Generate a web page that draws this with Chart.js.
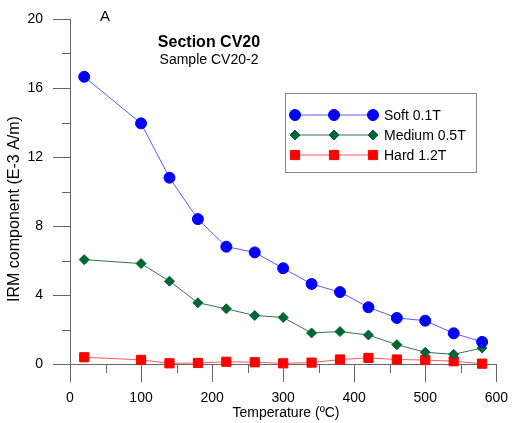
<!DOCTYPE html>
<html>
<head>
<meta charset="utf-8">
<script src="https://cdn.jsdelivr.net/npm/chart.js@4.4.1/dist/chart.umd.min.js"></script>
<style>
  html, body { margin: 0; padding: 0; background: #fff; }
  #wrap { width: 516px; height: 423px; }
</style>
</head>
<body>
<div id="wrap"><canvas id="irm" width="516" height="423"></canvas></div>
<script>
// temperature steps (oC)
var temps = [20, 100, 140, 180, 220, 260, 300, 340, 380, 420, 460, 500, 540, 580];
// IRM components (E-3 A/m)
var soft   = [16.65, 13.95, 10.8, 8.4, 6.8, 6.47, 5.55, 4.64, 4.17, 3.29, 2.67, 2.51, 1.78, 1.28];
var medium = [6.05, 5.82, 4.8, 3.55, 3.2, 2.81, 2.7, 1.8, 1.88, 1.68, 1.12, 0.68, 0.56, 0.93];
var hard   = [0.39, 0.24, 0.04, 0.06, 0.13, 0.1, 0.04, 0.08, 0.26, 0.35, 0.26, 0.23, 0.16, 0.02];
var seriesNames = ['Soft 0.1T', 'Medium 0.5T', 'Hard 1.2T'];
var xTicks = [0, 100, 200, 300, 400, 500, 600];
var yTicks = [0, 4, 8, 12, 16, 20];

var FONT = '"Liberation Sans", Arial, sans-serif';
var AXIS = '#666666';

function pts(vals) {
	var out = [];
	for (var i = 0; i < temps.length; i++) out.push({x: temps[i], y: vals[i]});
	return out;
}

// draws tick marks (major + minor), titles, axis titles and legend box
var decor = {
	id: 'decor',
	afterDraw: function(chart) {
		var c = chart.ctx, xs = chart.scales.x, ys = chart.scales.y;
		var x0 = xs.getPixelForValue(0), y0 = ys.getPixelForValue(0);
		c.save();
		c.strokeStyle = AXIS;
		c.lineWidth = 1;
		c.beginPath();
		for (var t = 0; t <= 20; t += 2) {
			var py = Math.round(ys.getPixelForValue(t)) + 0.5;
			c.moveTo(x0 - (t % 4 == 0 ? 17 : 8), py);
			c.lineTo(x0, py);
		}
		for (var v = 0; v <= 600; v += 50) {
			var px = Math.round(xs.getPixelForValue(v)) + 0.5;
			c.moveTo(px, y0);
			c.lineTo(px, y0 + (v % 100 == 0 ? 18 : 9));
		}
		c.stroke();

		c.fillStyle = '#000';
		c.textAlign = 'center';
		c.textBaseline = 'middle';
		c.font = '15px ' + FONT;
		c.fillText('A', 105, 17);
		c.font = 'bold 16px ' + FONT;
		c.fillText('Section CV20', 209, 43);
		c.font = '14px ' + FONT;
		c.fillText('Sample CV20-2', 209, 60);
		c.fillText('Temperature (\u00BAC)', 286, 413);
		c.save();
		c.translate(15, 209);
		c.rotate(-Math.PI / 2);
		c.font = '16px ' + FONT;
		c.fillText('IRM component (E-3 A/m)', 0, 0);
		c.restore();

		// legend
		c.strokeStyle = '#888';
		c.strokeRect(285.5, 93.5, 191, 79);
		var rows = [115, 135, 155];
		chart.data.datasets.forEach(function(ds, i) {
			var y = rows[i];
			c.strokeStyle = ds.borderColor;
			c.lineWidth = 1;
			c.beginPath();
			c.moveTo(295, y);
			c.lineTo(373, y);
			c.stroke();
			[295, 334, 373].forEach(function(mx) {
				c.fillStyle = ds.pointBackgroundColor;
				c.strokeStyle = ds.pointBorderColor;
				Chart.helpers.drawPoint(c, {pointStyle: ds.pointStyle, radius: ds.pointRadius, borderWidth: 1, rotation: 0}, mx, y);
			});
			c.fillStyle = '#000';
			c.textAlign = 'left';
			c.font = '14px ' + FONT;
			c.fillText(seriesNames[i], 384, y + 1);
		});
		c.restore();
	}
};

new Chart(document.getElementById('irm'), {
	type: 'line',
	data: {
		datasets: [{
			label: seriesNames[0],
			data: pts(soft),
			borderColor: '#5a5aff',
			borderWidth: 1,
			pointStyle: 'circle',
			pointRadius: 5.5,
			pointBackgroundColor: '#0000ff',
			pointBorderColor: '#0000ff',
			pointBorderWidth: 1
		}, {
			label: seriesNames[1],
			data: pts(medium),
			borderColor: '#3b6e5a',
			borderWidth: 1,
			pointStyle: 'rectRot',
			pointRadius: 5,
			pointBackgroundColor: '#006633',
			pointBorderColor: '#006633',
			pointBorderWidth: 1
		}, {
			label: seriesNames[2],
			data: pts(hard),
			borderColor: '#ff5a5a',
			borderWidth: 1,
			pointStyle: 'rect',
			pointRadius: 6.5,
			pointBackgroundColor: '#ff0000',
			pointBorderColor: '#ff0000',
			pointBorderWidth: 1
		}]
	},
	options: {
		responsive: false,
		animation: false,
		clip: false,
		layout: {
			padding: {left: 0, top: 19, right: 14, bottom: 0}
		},
		plugins: {
			legend: { display: false },
			tooltip: { enabled: false }
		},
		scales: {
			x: {
				type: 'linear',
				min: 0,
				max: 600,
				afterFit: function(s) { s.height = 59; },
				afterBuildTicks: function(s) {
					s.ticks = xTicks.map(function(v) { return {value: v}; });
				},
				grid: { drawOnChartArea: false, color: 'transparent', tickLength: 18 },
				border: { display: true, color: AXIS, width: 1 },
				ticks: { color: '#000', padding: 8, maxRotation: 0, font: { family: FONT, size: 14 } }
			},
			y: {
				min: 0,
				max: 20,
				afterFit: function(s) { s.width = 70; },
				afterBuildTicks: function(s) {
					s.ticks = yTicks.map(function(v) { return {value: v}; });
				},
				grid: { drawOnChartArea: false, color: 'transparent', tickLength: 17 },
				border: { display: true, color: AXIS, width: 1 },
				ticks: { color: '#000', padding: 10, font: { family: FONT, size: 14 } }
			}
		}
	},
	plugins: [decor]
});
</script>
</body>
</html>
